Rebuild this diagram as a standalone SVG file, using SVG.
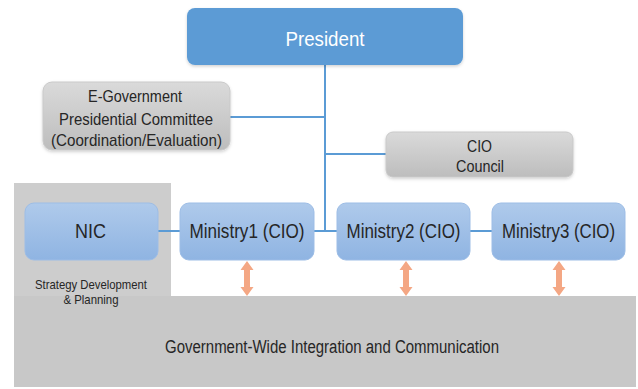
<svg xmlns="http://www.w3.org/2000/svg" width="638" height="389" viewBox="0 0 638 389">
<style>
.t{font-family:"Liberation Sans",Arial,sans-serif;fill:#262626;text-anchor:middle}
.blue{fill:url(#gBlue);stroke:#9dbde6;stroke-width:1}
.gray{fill:url(#gGray);stroke:#c9c9c9;stroke-width:1}
.conn{stroke:#5b9bd5;stroke-width:2;fill:none}
.arr{fill:#f4a784}
</style>
<defs>
<linearGradient id="gBlue" x1="0" y1="0" x2="0" y2="1">
<stop offset="0" stop-color="#afcaeb"/>
<stop offset="1" stop-color="#8fb4e2"/>
</linearGradient>
<linearGradient id="gGray" x1="0" y1="0" x2="0" y2="1">
<stop offset="0" stop-color="#dadada"/>
<stop offset="1" stop-color="#bdbdbd"/>
</linearGradient>
<filter id="sh" x="-10%" y="-10%" width="120%" height="130%">
<feDropShadow dx="0" dy="1.5" stdDeviation="1.5" flood-color="#000" flood-opacity="0.18"/>
</filter>
<polygon id="dArrow" points="0,0 6.5,9 3,9 3,26 6.5,26 0,35 -6.5,26 -3,26 -3,9 -6.5,9"/>
</defs>

<g id="background">
<path d="M14,183 H171 V296 H636 V387 H14 Z" fill="#c8c8c8"/>
<path d="M14,183 H171 V296 H14 Z" fill="#cdcdcd"/>
</g>

<g id="connectors">
<line class="conn" x1="325" y1="65" x2="325" y2="231"/>
<line class="conn" x1="230" y1="117" x2="325" y2="117"/>
<line class="conn" x1="325" y1="154" x2="386" y2="154"/>
<line class="conn" x1="158" y1="231" x2="180" y2="231"/>
<line class="conn" x1="314" y1="231" x2="337" y2="231"/>
<line class="conn" x1="470" y1="231" x2="492" y2="231"/>
<use href="#dArrow" class="arr" x="247" y="261"/>
<use href="#dArrow" class="arr" x="406" y="261"/>
<use href="#dArrow" class="arr" x="559" y="261"/>
</g>

<g id="president">
<rect x="187" y="8" width="276" height="57" rx="8" fill="#5b9bd5" filter="url(#sh)"/>
<text class="t" x="325" y="46" font-size="21" style="fill:#ffffff" textLength="79" lengthAdjust="spacingAndGlyphs">President</text>
</g>

<g id="egov-committee">
<rect class="gray" x="43" y="82" width="187" height="68" rx="9" filter="url(#sh)"/>
<text class="t" x="135" y="102" font-size="17" textLength="94" lengthAdjust="spacingAndGlyphs">E-Government</text>
<text class="t" x="136" y="125" font-size="17" textLength="154" lengthAdjust="spacingAndGlyphs">Presidential  Committee</text>
<text class="t" x="136.5" y="146" font-size="17" textLength="171" lengthAdjust="spacingAndGlyphs">(Coordination/Evaluation)</text>
</g>

<g id="cio-council">
<rect class="gray" x="386" y="132" width="187" height="45" rx="7" filter="url(#sh)"/>
<text class="t" x="479.5" y="152" font-size="17" textLength="25" lengthAdjust="spacingAndGlyphs">CIO</text>
<text class="t" x="480" y="172" font-size="17" textLength="48" lengthAdjust="spacingAndGlyphs">Council</text>
</g>

<g id="nic">
<rect class="blue" x="25" y="203" width="133" height="57" rx="9"/>
<text class="t" x="90.5" y="238" font-size="20" textLength="31" lengthAdjust="spacingAndGlyphs">NIC</text>
<text class="t" x="91" y="289" font-size="13" textLength="112" lengthAdjust="spacingAndGlyphs">Strategy Development</text>
<text class="t" x="91" y="304" font-size="13" textLength="55" lengthAdjust="spacingAndGlyphs">&amp; Planning</text>
</g>

<g id="ministry1">
<rect class="blue" x="180" y="203" width="134" height="57" rx="9"/>
<text class="t" x="247" y="238" font-size="20" textLength="115" lengthAdjust="spacingAndGlyphs">Ministry1 (CIO)</text>
</g>

<g id="ministry2">
<rect class="blue" x="337" y="203" width="133" height="57" rx="9"/>
<text class="t" x="403.5" y="238" font-size="20" textLength="114" lengthAdjust="spacingAndGlyphs">Ministry2 (CIO)</text>
</g>

<g id="ministry3">
<rect class="blue" x="492" y="203" width="133" height="57" rx="9"/>
<text class="t" x="558.5" y="238" font-size="20" textLength="113" lengthAdjust="spacingAndGlyphs">Ministry3 (CIO)</text>
</g>

<g id="integration">
<text class="t" x="332" y="353" font-size="18" textLength="334" lengthAdjust="spacingAndGlyphs">Government-Wide Integration and Communication</text>
</g>
</svg>
